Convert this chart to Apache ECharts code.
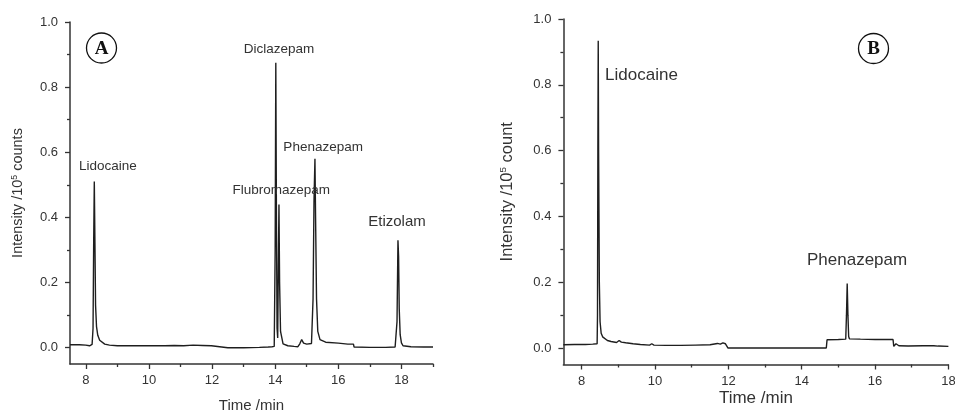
<!DOCTYPE html>
<html>
<head>
<meta charset="utf-8">
<script src="https://cdn.jsdelivr.net/npm/echarts@6/dist/echarts.min.js"></script>
<style>
html,body{margin:0;padding:0;background:#fff;}
#chart{width:955px;height:413px;}
</style>
</head>
<body>
<div id="chart"></div>
<script>
// ---- Panel A data (time in min, intensity in 10^5 counts) ----
var timeA = [7.5, 7.8, 8.0, 8.05, 8.12, 8.17, 8.2, 8.23, 8.25, 8.27, 8.29, 8.31, 8.34, 8.38, 8.44, 8.5, 8.6, 8.75, 9.0, 9.5, 10.0, 10.5, 10.8, 11.1, 11.4, 11.7, 11.98, 12.0, 12.5, 13.0, 13.5, 13.78, 13.82, 13.9, 13.97, 14.0, 14.02, 14.04, 14.06, 14.08, 14.1, 14.12, 14.14, 14.17, 14.25, 14.4, 14.6, 14.72, 14.78, 14.84, 14.9, 15.0, 15.15, 15.2, 15.23, 15.26, 15.28, 15.31, 15.35, 15.42, 15.6, 16.0, 16.3, 16.48, 16.5, 17.0, 17.5, 17.8, 17.86, 17.89, 17.91, 17.93, 17.96, 18.0, 18.05, 18.3, 18.7, 19.0];
var intensityA = [0.009, 0.009, 0.008, 0.005, 0.006, 0.012, 0.01, 0.06, 0.32, 0.51, 0.32, 0.13, 0.065, 0.038, 0.023, 0.017, 0.011, 0.008, 0.006, 0.006, 0.006, 0.006, 0.007, 0.006, 0.008, 0.007, 0.006, 0.0, 0.0, 0.0, 0.001, 0.002, 0.0, 0.003, 0.004, 0.3, 0.875, 0.4, 0.06, 0.03, 0.25, 0.44, 0.2, 0.05, 0.012, 0.006, 0.004, 0.003, 0.012, 0.025, 0.014, 0.011, 0.013, 0.15, 0.45, 0.58, 0.4, 0.15, 0.05, 0.025, 0.017, 0.014, 0.011, 0.011, 0.002, 0.001, 0.001, 0.002, 0.08, 0.33, 0.28, 0.12, 0.04, 0.015, 0.006, 0.003, 0.002, 0.002];

// ---- Panel B data ----
var timeB = [7.5, 7.8, 8.1, 8.3, 8.42, 8.43, 8.44, 8.45, 8.46, 8.48, 8.5, 8.53, 8.57, 8.62, 8.7, 8.8, 8.95, 9.02, 9.08, 9.2, 9.4, 9.6, 9.85, 9.91, 9.97, 10.3, 10.7, 11.1, 11.5, 11.7, 11.78, 11.85, 11.92, 11.97, 11.99, 12.5, 13.0, 13.5, 14.0, 14.67, 14.69, 15.0, 15.2, 15.22, 15.24, 15.26, 15.28, 15.3, 15.35, 15.6, 16.0, 16.3, 16.49, 16.51, 16.57, 16.65, 16.9, 17.3, 17.6, 17.65, 17.72, 18.0];
var intensityB = [0.01, 0.011, 0.011, 0.012, 0.013, 0.1, 0.6, 0.934, 0.6, 0.2, 0.08, 0.045, 0.034, 0.028, 0.023, 0.02, 0.017, 0.023, 0.018, 0.016, 0.013, 0.011, 0.009, 0.013, 0.009, 0.008, 0.008, 0.009, 0.01, 0.014, 0.012, 0.016, 0.013, 0.014, 0.0, 0.0, 0.0, 0.0, 0.0, 0.0, 0.025, 0.026, 0.027, 0.1, 0.196, 0.1, 0.035, 0.028, 0.027, 0.027, 0.026, 0.026, 0.026, 0.005, 0.013, 0.007, 0.006, 0.007, 0.007, 0.012, 0.006, 0.005];

// ---- Peak annotations: [name, time, intensity, font size] ----
var labelsA = [["Lidocaine", 8.70, 0.556, 13.5], ["Diclazepam", 14.12, 0.915, 13.5], ["Phenazepam", 15.52, 0.614, 13.5], ["Flubromazepam", 14.19, 0.483, 13.5], ["Etizolam", 17.86, 0.387, 15]];
var labelsB = [["Lidocaine", 9.63, 0.828, 17], ["Phenazepam", 15.51, 0.268, 17]];

// ---- Tick values ----
var yMajor = [0, 0.2, 0.4, 0.6, 0.8, 1.0];
var yMinor = [0.1, 0.3, 0.5, 0.7, 0.9];
var xMajor = [8, 10, 12, 14, 16, 18];
var xMinorA = [9, 11, 13, 15, 17, 19];
var xMinorB = [9, 11, 13, 15, 17];

var FONT = "'Liberation Sans', Arial, sans-serif";
var AX = '#333';
var TXT = '#333';

function zip(t, v) { return t.map(function (x, i) { return [x, v[i]]; }); }

function yAxes(grid, titleName, fs, gap) {
  return [{
    type: 'value', gridIndex: grid, position: 'left', min: -0.05, max: 1.0,
    name: titleName, nameLocation: 'middle', nameGap: gap, nameRotate: 90,
    nameTextStyle: { fontFamily: FONT, fontSize: fs, color: TXT,
      rich: { sup: { fontFamily: FONT, fontSize: fs * 0.6, color: TXT, verticalAlign: 'top', padding: [0, 0, fs * 0.5, 0] } } },
    axisLine: { show: true, lineStyle: { color: AX, width: 1.5 } },
    axisTick: { show: true, length: 5, lineStyle: { color: AX, width: 1.3 }, customValues: yMajor },
    axisLabel: { show: true, margin: 12, fontFamily: FONT, fontSize: 13, color: TXT, customValues: yMajor,
      formatter: function (v) { return v.toFixed(1); } },
    splitLine: { show: false }
  }, {
    type: 'value', gridIndex: grid, position: 'left', min: -0.05, max: 1.0,
    axisLine: { show: false },
    axisTick: { show: true, length: 3, lineStyle: { color: AX, width: 1.3 }, customValues: yMinor },
    axisLabel: { show: false },
    splitLine: { show: false }
  }];
}

function xAxes(grid, max, minor, fs, gap) {
  return [{
    type: 'value', gridIndex: grid, position: 'bottom', min: 7.5, max: max,
    name: 'Time /min', nameLocation: 'middle', nameGap: gap, nameMoveOverlap: false,
    nameTextStyle: { fontFamily: FONT, fontSize: fs, color: TXT },
    axisLine: { show: true, onZero: false, lineStyle: { color: AX, width: 1.5 } },
    axisTick: { show: true, length: 5, lineStyle: { color: AX, width: 1.3 }, customValues: xMajor },
    axisLabel: { show: true, margin: 10, fontFamily: FONT, fontSize: 13, color: TXT, customValues: xMajor },
    splitLine: { show: false }
  }, {
    type: 'value', gridIndex: grid, position: 'bottom', min: 7.5, max: max,
    axisLine: { show: false, onZero: false },
    axisTick: { show: true, length: 3, lineStyle: { color: AX, width: 1.3 }, customValues: minor },
    axisLabel: { show: false },
    splitLine: { show: false }
  }];
}

function marks(list) {
  return {
    silent: true,
    symbol: 'circle', symbolSize: 0,
    data: list.map(function (l) {
      return { name: l[0], coord: [l[1], l[2]],
        label: { show: true, position: 'inside', fontFamily: FONT, fontSize: l[3], color: TXT, formatter: l[0] } };
    })
  };
}

function badge(letter, cx, cy) {
  return {
    type: 'group', children: [
      { type: 'circle', shape: { cx: cx, cy: cy, r: 15 }, style: { fill: '#fff', stroke: '#111', lineWidth: 1.3 } },
      { type: 'text', x: cx, y: cy + 1, style: { text: letter, fontFamily: "'Liberation Serif', 'Times New Roman', serif", fontWeight: 'bold', fontSize: 19, fill: '#111', align: 'center', verticalAlign: 'middle' } }
    ]
  };
}

var chart = echarts.init(document.getElementById('chart'), null, { renderer: 'canvas' });
var ya = yAxes(0, 'Intensity /10{sup|5} counts', 14.5, 44);
var yb = yAxes(1, 'Intensity /10{sup|5} count', 16.5, 47);
var xa = xAxes(0, 19, xMinorA, 15, 34);
var xb = xAxes(1, 18, xMinorB, 17, 25);

chart.setOption({
  animation: false,
  backgroundColor: '#fff',
  grid: [
    { left: 70, top: 22, width: 363, height: 342, outerBoundsMode: 'none', containLabel: false },
    { left: 563.4, top: 19, width: 385, height: 345.5, outerBoundsMode: 'none', containLabel: false }
  ],
  xAxis: [xa[0], xa[1], xb[0], xb[1]],
  yAxis: [ya[0], ya[1], yb[0], yb[1]],
  series: [
    { type: 'line', xAxisIndex: 0, yAxisIndex: 0, data: zip(timeA, intensityA), showSymbol: false, symbol: 'none',
      lineStyle: { color: '#1e1e1e', width: 1.4 }, markPoint: marks(labelsA) },
    { type: 'line', xAxisIndex: 2, yAxisIndex: 2, data: zip(timeB, intensityB), showSymbol: false, symbol: 'none',
      lineStyle: { color: '#1e1e1e', width: 1.4 }, markPoint: marks(labelsB) }
  ],
  graphic: [badge('A', 101.5, 48), badge('B', 873.5, 48.5)]
});
</script>
</body>
</html>
